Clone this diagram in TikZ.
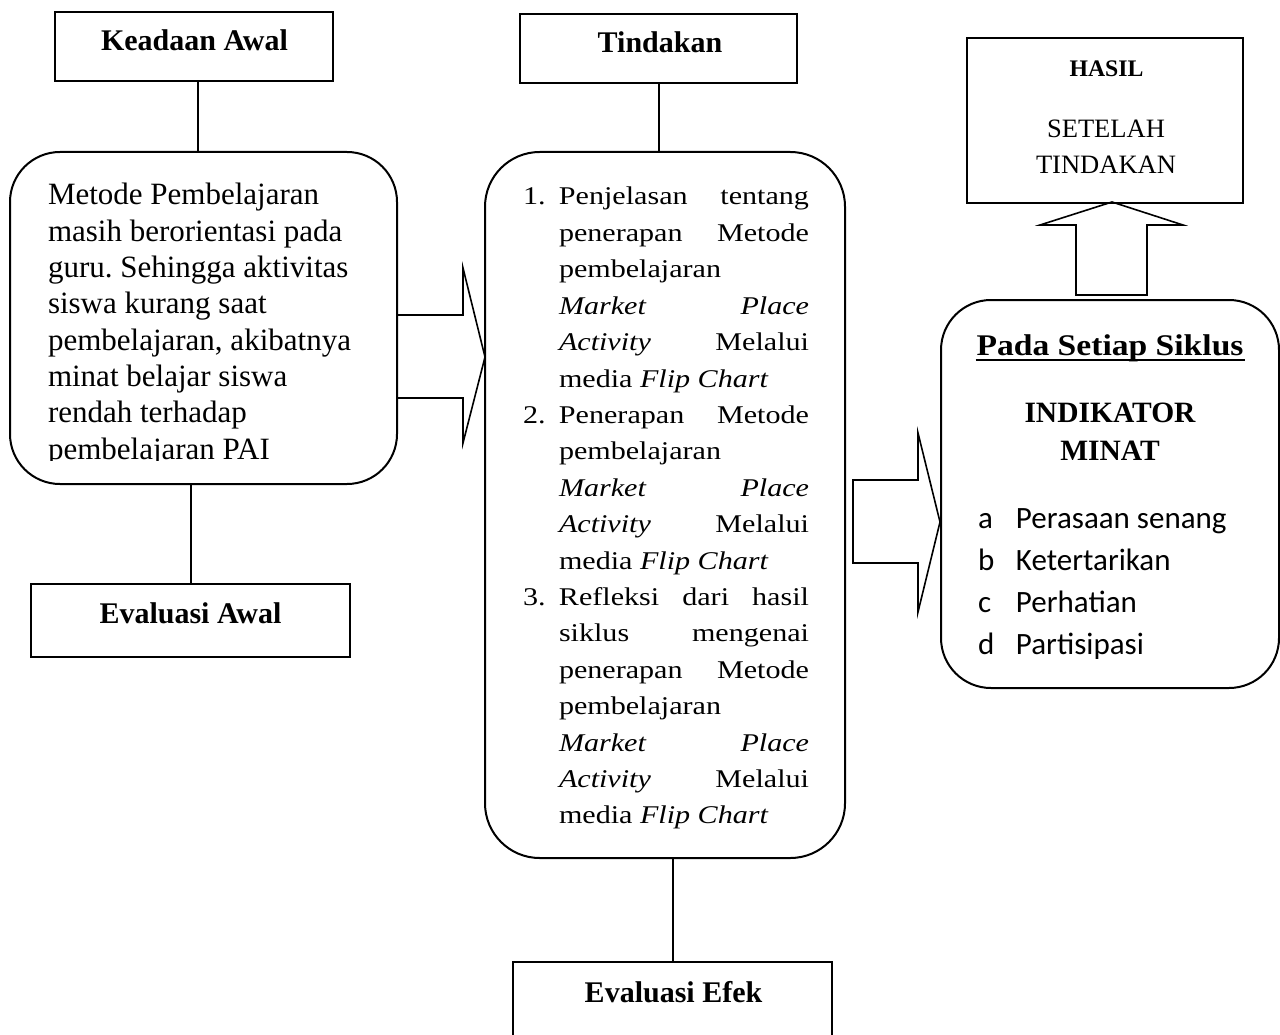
\documentclass[tikz,border=0pt]{standalone}
\usepackage{fontspec}
\setmainfont{Liberation Serif}
\newfontfamily\wideserif[FakeStretch=1.18]{Liberation Serif}
\newfontfamily\boldwide[FakeStretch=1.12]{Liberation Serif}
\newfontfamily\calib{Carlito}
\usetikzlibrary{calc}
\newdimen\PX \PX=0.75pt
\newcommand\jline[1]{\makebox[250\PX][s]{#1}}
\newcommand\cind{\hspace*{36\PX}}
\newcommand\cnum[1]{\makebox[36\PX][l]{#1}}
\frenchspacing
\begin{document}
\begin{tikzpicture}[x=0.75pt,y=-0.75pt,line width=1.5pt,
  sqbox/.style={draw,rectangle,inner sep=0pt},
  rbox/.style={draw,rectangle,inner sep=0pt,rounded corners=37.5pt},
  title/.style={inner sep=0pt,anchor=base,font=\fontsize{22.5pt}{27pt}\selectfont\bfseries},
  txt/.style={inner sep=0pt},
  blockarrow/.style={draw,line width=1.2pt,line join=miter}]
\useasboundingbox (0,0) rectangle (1280,1034);

% boxes
\node[sqbox,minimum width=208.5pt,minimum height=51.75pt] (ka) at (194,46.5) {};
\node[rbox,minimum width=290.25pt,minimum height=249pt] (lb) at (203.5,318) {};
\node[sqbox,minimum width=239.25pt,minimum height=54.75pt] (ea) at (190.5,620.5) {};
\node[sqbox,minimum width=207.75pt,minimum height=51.75pt] (tk) at (658.5,48.5) {};
\node[rbox,rounded corners=41pt,minimum width=270pt,minimum height=529.5pt] (cb) at (665,505) {};
\node[sqbox,minimum width=239.25pt,minimum height=58.5pt] (ee) at (672.5,1001) {};
\node[sqbox,minimum width=207pt,minimum height=123.75pt] (hs) at (1105,120.5) {};
\node[rbox,minimum width=253.5pt,minimum height=291pt] (rb) at (1110,494) {};

% titles
\node[title] (kat) at (194.5,51) {Keadaan Awal};
\node[title] (tkt) at (660,53) {Tindakan};
\node[title] (eat) at (190.5,623) {Evaluasi Awal};
\node[title] (eet) at (673.5,1002) {Evaluasi Efek};
\node[txt,anchor=base,font=\fontsize{17.8pt}{21pt}\selectfont\bfseries] (hst) at (1106.5,77) {HASIL};
\node[txt,anchor=base] (stt) at (1106,138) {\parbox[t]{220\PX}{\centering\fontsize{19.9pt}{27pt}\selectfont SETELAH\\TINDAKAN}};

% left box text
\begin{scope}
\clip (0,140) rectangle (400,460);
\node[txt,anchor=base west] (lbt) at (47,205) {\parbox[t]{345\PX}{\fontsize{23.25pt}{27.225pt}\selectfont
Metode Pembelajaran\\
masih berorientasi pada\\
guru. Sehingga aktivitas\\
siswa kurang saat\\
pembelajaran, akibatnya\\
minat belajar siswa\\
rendah terhadap\\
pembelajaran PAI}};
\end{scope}

% central box text
\node[txt,anchor=base west] (cbt) at (522,205) {\parbox[t]{300\PX}{\wideserif\fontsize{19.125pt}{27.3pt}\selectfont
\cnum{1.}\jline{Penjelasan tentang}\\
\cind\jline{penerapan Metode}\\
\cind pembelajaran\\
\cind\jline{\textit{Market Place}}\\
\cind\jline{\textit{Activity} Melalui}\\
\cind media \textit{Flip Chart}\\
\cnum{2.}\jline{Penerapan Metode}\\
\cind pembelajaran\\
\cind\jline{\textit{Market Place}}\\
\cind\jline{\textit{Activity} Melalui}\\
\cind media \textit{Flip Chart}\\
\cnum{3.}\jline{Refleksi dari hasil}\\
\cind\jline{siklus mengenai}\\
\cind\jline{penerapan Metode}\\
\cind pembelajaran\\
\cind\jline{\textit{Market Place}}\\
\cind\jline{\textit{Activity} Melalui}\\
\cind media \textit{Flip Chart}}};

% right box text
\node[txt,anchor=base,font=\boldwide\bfseries\fontsize{22.5pt}{27pt}\selectfont] (ps) at (1110,355) {Pada Setiap Siklus};
\draw[line width=1.1pt] ([yshift=-3.75pt]ps.base west) -- ([yshift=-3.75pt]ps.base east);
\node[txt,anchor=base] (im) at (1110,422) {\parbox[t]{250\PX}{\centering\bfseries\fontsize{22.125pt}{28.5pt}\selectfont INDIKATOR\\MINAT}};
\node[txt,anchor=base west] (lst) at (977,528) {\parbox[t]{290\PX}{\calib\fontsize{23.25pt}{31.5pt}\selectfont
\makebox[38\PX][l]{a}Perasaan senang\\
\makebox[38\PX][l]{b}Ketertarikan\\
\makebox[38\PX][l]{c}Perhatian\\
\makebox[38\PX][l]{d}Partisipasi}};

% connectors
\draw ([xshift=3pt]ka.south) -- ([xshift=3pt]ka.south |- lb.north);
\draw (ea.north) -- (ea.north |- lb.south);
\draw (tk.south) -- (tk.south |- cb.north);
\draw (ee.north) -- (ee.north |- cb.south);

% block arrows
\draw[blockarrow] (397,315) -- (463,315) -- (463,268) -- (485,357) -- (463,443) -- (463,398) -- (397,398);
\draw[blockarrow] (853,480) -- (918,480) -- (918,433) -- (940,522) -- (918,612) -- (918,563) -- (853,563) -- cycle;
\draw[blockarrow] (1076,295) -- (1076,225) -- (1040,225) -- (1112,202) -- (1183,225) -- (1147,225) -- (1147,295) -- cycle;
\end{tikzpicture}
\end{document}
